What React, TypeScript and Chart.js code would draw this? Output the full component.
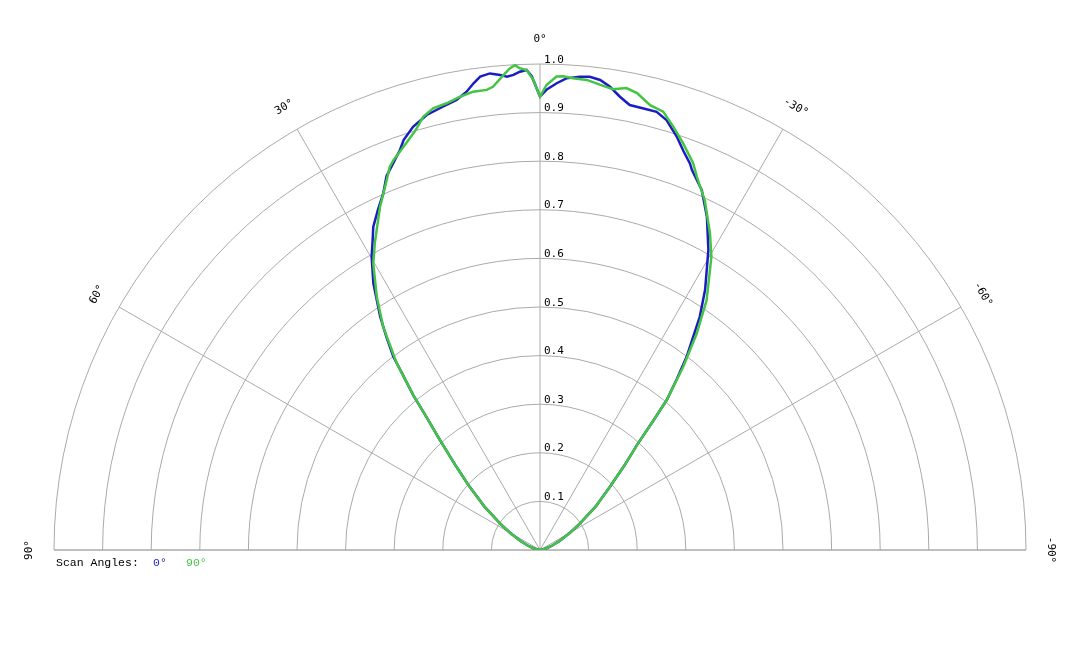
import React, { useEffect, useRef } from 'react'
import { Chart, registerables } from 'chart.js'

Chart.register(...registerables)

// angles in degrees (positive = left of 0°), radii normalised 0..1
const blueAngles = [90, 85, 80, 75, 70, 65, 60, 56.3, 52, 47.8, 45, 42.3, 40.5, 39.3, 38, 37.2, 35.8, 34.4, 32, 29.85, 28.5, 27.3, 25.5, 23.7, 22.3, 20.8, 19.3, 18.4, 16.7, 14.6, 12.3, 10.5, 9.1, 8.1, 7.2, 6, 4.8, 4, 3.2, 2.4, 1.6, 1, 0, -0.8, -2.05, -3.2, -4.8, -6, -7.3, -8.6, -10, -11.4, -13.2, -14.9, -16.4, -18.3, -19.8, -21.2, -21.8, -24.2, -26.6, -29.3, -32.4, -34.4, -37.2, -38.7, -40.2, -41.3, -42.6, -45, -47.9, -52, -56.3, -60, -65, -70, -75, -80, -85, -90]
const blueR = [0, 0.002, 0.006, 0.014, 0.027, 0.045, 0.072, 0.099, 0.145, 0.199, 0.245, 0.306, 0.36, 0.412, 0.46, 0.499, 0.54, 0.582, 0.647, 0.696, 0.722, 0.748, 0.775, 0.802, 0.832, 0.851, 0.872, 0.889, 0.909, 0.925, 0.934, 0.942, 0.955, 0.97, 0.982, 0.986, 0.981, 0.976, 0.979, 0.985, 0.988, 0.975, 0.933, 0.947, 0.961, 0.972, 0.977, 0.979, 0.975, 0.964, 0.947, 0.934, 0.933, 0.933, 0.922, 0.896, 0.872, 0.853, 0.842, 0.812, 0.767, 0.708, 0.634, 0.582, 0.499, 0.45, 0.404, 0.35, 0.298, 0.245, 0.194, 0.145, 0.099, 0.072, 0.045, 0.027, 0.014, 0.006, 0.002, 0]

const greenAngles = [90, 85, 80, 75, 70, 65, 60, 56.3, 52, 47.8, 45, 42.3, 40.5, 39.3, 37.5, 35.1, 32.8, 30.2, 28.3, 25, 22.5, 21.4, 20.6, 18.7, 16.9, 16.3, 15.1, 13.6, 11.8, 10, 8.3, 6.6, 5.8, 4.4, 3.6, 2.95, 2.4, 1.6, 0.8, 0, -0.8, -2, -2.8, -4, -5.7, -7.4, -9, -10.6, -12, -13.9, -15.7, -17.5, -19.4, -21.6, -22.8, -25.2, -28.2, -30.3, -33.7, -35.9, -38, -40.2, -41.3, -42.6, -45, -47.9, -52, -56.3, -60, -65, -70, -75, -80, -85, -90]
const greenR = [0, 0.002, 0.006, 0.014, 0.027, 0.045, 0.072, 0.099, 0.145, 0.199, 0.245, 0.306, 0.36, 0.41, 0.484, 0.561, 0.62, 0.682, 0.717, 0.779, 0.824, 0.847, 0.857, 0.876, 0.896, 0.904, 0.923, 0.935, 0.939, 0.947, 0.953, 0.953, 0.958, 0.98, 0.993, 0.999, 0.992, 0.988, 0.967, 0.933, 0.957, 0.975, 0.976, 0.973, 0.972, 0.965, 0.96, 0.967, 0.961, 0.943, 0.937, 0.913, 0.887, 0.856, 0.833, 0.796, 0.74, 0.699, 0.618, 0.55, 0.479, 0.404, 0.35, 0.298, 0.245, 0.194, 0.145, 0.099, 0.072, 0.045, 0.027, 0.014, 0.006, 0.002, 0]

const ringTicks = [0.1, 0.2, 0.3, 0.4, 0.5, 0.6, 0.7, 0.8, 0.9, 1.0]
const spokeAngles = [90, 60, 30, 0, -30, -60, -90]
const legendLabels = ['0°', '90°']
const legendColors = ['#1c1cc4', '#44c444']

const toXY = (angles: number[], radii: number[]) =>
  angles.map((a, i) => {
    const t = (a * Math.PI) / 180
    return { x: -radii[i] * Math.sin(t), y: radii[i] * Math.cos(t) }
  })

const polarGrid = {
  id: 'polarGrid',
  beforeDatasetsDraw(chart: any) {
    const { ctx } = chart
    const xs = chart.scales.x
    const ys = chart.scales.y
    const cx = xs.getPixelForValue(0)
    const cy = ys.getPixelForValue(0)
    const unit = xs.getPixelForValue(1) - cx
    ctx.save()
    ctx.strokeStyle = '#aaaaaa'
    ctx.lineWidth = 1
    ringTicks.forEach((r) => {
      ctx.beginPath()
      ctx.arc(cx, cy, r * unit, Math.PI, 2 * Math.PI)
      ctx.stroke()
    })
    ctx.beginPath()
    ctx.moveTo(xs.getPixelForValue(-1), cy)
    ctx.lineTo(xs.getPixelForValue(1), cy)
    ctx.stroke()
    spokeAngles.forEach((a) => {
      const t = (a * Math.PI) / 180
      ctx.beginPath()
      ctx.moveTo(cx, cy)
      ctx.lineTo(xs.getPixelForValue(-Math.sin(t)), ys.getPixelForValue(Math.cos(t)))
      ctx.stroke()
    })

    ctx.fillStyle = '#000'
    ctx.font = '11px "DejaVu Sans Mono", monospace'
    ctx.textAlign = 'left'
    ctx.textBaseline = 'alphabetic'
    ringTicks.forEach((r) => {
      ctx.fillText(r.toFixed(1), cx + 4, ys.getPixelForValue(r) - 1.5)
    })

    ctx.textAlign = 'center'
    ctx.textBaseline = 'middle'
    spokeAngles.forEach((a) => {
      const t = (a * Math.PI) / 180
      const px = xs.getPixelForValue(-1.052 * Math.sin(t))
      const py = ys.getPixelForValue(1.052 * Math.cos(t))
      ctx.save()
      ctx.translate(px, py)
      ctx.rotate(-t)
      ctx.fillText(`${a}°`, 0, 0)
      ctx.restore()
    })
    ctx.restore()
  },
  afterDraw(chart: any) {
    const { ctx } = chart
    const x0 = chart.scales.x.getPixelForValue(-1) + 2
    const y0 = chart.scales.y.getPixelForValue(0) + 16
    ctx.save()
    ctx.font = '11.5px "Liberation Mono", monospace'
    ctx.textAlign = 'left'
    ctx.textBaseline = 'alphabetic'
    ctx.fillStyle = '#000'
    ctx.fillText('Scan Angles:', x0, y0)
    ctx.fillStyle = legendColors[0]
    ctx.fillText(legendLabels[0], x0 + 97, y0)
    ctx.fillStyle = legendColors[1]
    ctx.fillText(legendLabels[1], x0 + 130, y0)
    ctx.restore()
  },
}

export default function App() {
  const chartRef = useRef<HTMLCanvasElement>(null)
  const chartInstance = useRef<Chart | null>(null)

  useEffect(() => {
    document.body.style.margin = '0'
    if (!chartRef.current) return
    if (chartInstance.current) chartInstance.current.destroy()

    chartInstance.current = new Chart(chartRef.current, {
      type: 'scatter',
      data: {
        datasets: [
          {
            label: legendLabels[0],
            data: toXY(blueAngles, blueR),
            showLine: true,
            borderColor: legendColors[0],
            borderWidth: 2.5,
            pointRadius: 0,
            order: 2,
          },
          {
            label: legendLabels[1],
            data: toXY(greenAngles, greenR),
            showLine: true,
            borderColor: legendColors[1],
            borderWidth: 2.5,
            pointRadius: 0,
            order: 1,
          },
        ],
      },
      options: {
        animation: false,
        responsive: true,
        maintainAspectRatio: false,
        layout: { padding: { left: 54, right: 54, top: 64, bottom: 98 } },
        plugins: { legend: { display: false }, tooltip: { enabled: false } },
        scales: {
          x: { type: 'linear', min: -1, max: 1, display: false },
          y: { type: 'linear', min: 0, max: 1, display: false },
        },
      },
      plugins: [polarGrid],
    })

    return () => chartInstance.current?.destroy()
  }, [])

  return (
    <div style={{ position: 'relative', width: 1080, height: 648, background: '#fff' }}>
      <canvas ref={chartRef} />
    </div>
  )
}
